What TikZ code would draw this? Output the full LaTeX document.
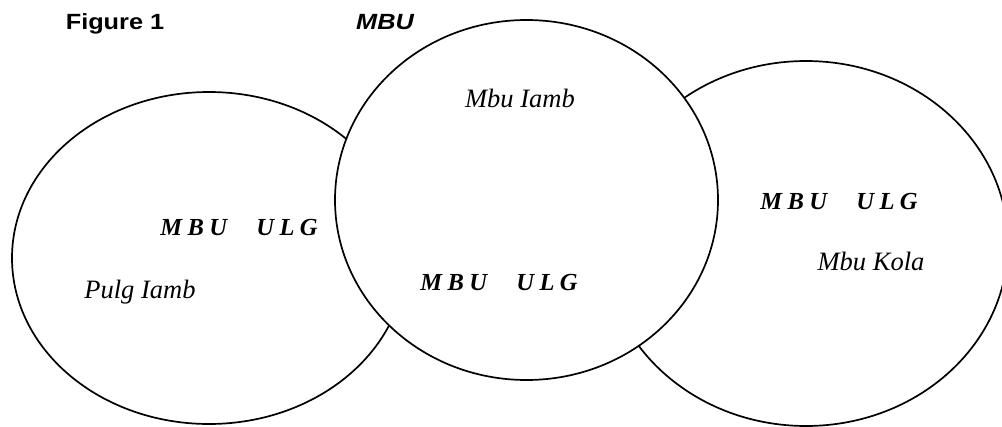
\documentclass[tikz,border=0pt]{standalone}
\usepackage{fontspec}
\setmainfont{Liberation Serif}
\newfontfamily\headfont[FakeStretch=1.15]{Liberation Sans}
\usetikzlibrary{shapes.geometric}
\newcommand{\mbuulg}{M\hspace{0.22em}B\hspace{0.22em}U\hspace{1.2em}U\hspace{0.22em}L\hspace{0.22em}G}
\begin{document}
\begin{tikzpicture}[x=1pt,y=-1pt,
  ring/.style={ellipse, draw, line width=1.7pt, inner sep=0pt, outer sep=0pt},
  lab/.style={anchor=base, inner sep=0pt, font=\fontsize{26.5}{30}\selectfont\itshape},
  boldlab/.style={anchor=base, inner sep=0pt, font=\fontsize{24.5}{28}\selectfont\bfseries\itshape},
  head/.style={anchor=base, inner sep=0pt, font=\fontsize{22}{25}\selectfont\headfont\bfseries}]
\clip (0,0) rectangle (1002,426);
\fill[white] (0,0) rectangle (1002,426);
\node[ring, minimum width=394pt, minimum height=332pt] (pulg) at (209,258) {};
\node[ring, minimum width=404pt, minimum height=365pt] (kola) at (806,243.5) {};
\node[ring, fill=white, minimum width=383pt, minimum height=360pt] (iamb) at (526.5,200) {};
\node[head] (fig) at (115,29.5) {Figure 1};
\node[head, font=\fontsize{22}{25}\selectfont\headfont\bfseries\itshape] (ttl) at (385,29.5) {MBU};
\node[lab] (t1) at (520,107) {Mbu Iamb};
\node[lab] (t2) at (140,298) {Pulg Iamb};
\node[lab] (t3) at (871,270) {Mbu Kola};
\node[boldlab] (b1) at (239,235) {\mbuulg};
\node[boldlab] (b2) at (499,290) {\mbuulg};
\node[boldlab] (b3) at (839,209) {\mbuulg};
\end{tikzpicture}
\end{document}
